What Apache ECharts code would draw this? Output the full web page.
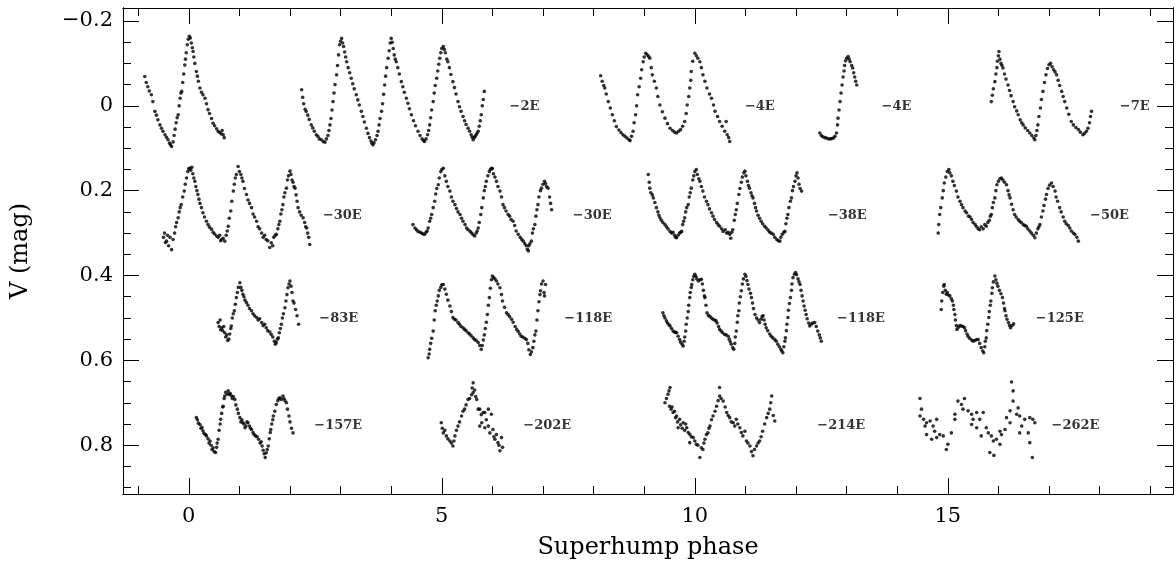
<!DOCTYPE html>
<html><head><meta charset="utf-8">
<script src="https://cdn.jsdelivr.net/npm/echarts@6/dist/echarts.min.js"></script>
<style>html,body{margin:0;padding:0;background:#fff}#c{width:1176px;height:565px}</style>
</head><body><div id="c"></div>
<script>
// ---- data: superhump light curves, [phase, V mag] ----
const lc0E = [[-0.87,-0.069],[-0.84,-0.055],[-0.81,-0.045],[-0.78,-0.035],[-0.74,-0.026],[-0.71,-0.01],[-0.67,0.013],[-0.64,0.022],[-0.61,0.033],[-0.57,0.045],[-0.54,0.053],[-0.51,0.06],[-0.47,0.068],[-0.44,0.074],[-0.41,0.08],[-0.38,0.088],[-0.36,0.092],[-0.34,0.096],[-0.31,0.085],[-0.29,0.07],[-0.27,0.055],[-0.25,0.04],[-0.23,0.028],[-0.21,0.021],[-0.19,0.0],[-0.17,-0.018],[-0.155,-0.03],[-0.14,-0.034],[-0.12,-0.055],[-0.1,-0.075],[-0.08,-0.096],[-0.065,-0.11],[-0.05,-0.125],[-0.03,-0.144],[-0.01,-0.157],[0.01,-0.164],[0.03,-0.16],[0.05,-0.148],[0.07,-0.137],[0.085,-0.128],[0.1,-0.115],[0.12,-0.1],[0.15,-0.081],[0.17,-0.07],[0.19,-0.058],[0.22,-0.042],[0.25,-0.032],[0.28,-0.026],[0.32,-0.018],[0.35,-0.005],[0.38,0.009],[0.41,0.018],[0.45,0.03],[0.48,0.041],[0.51,0.047],[0.55,0.054],[0.58,0.06],[0.61,0.063],[0.64,0.066],[0.66,0.058],[0.68,0.068],[0.7,0.075]];
const lc2E = [[2.23,-0.038],[2.25,-0.02],[2.27,-0.005],[2.3,0.008],[2.32,0.013],[2.35,0.022],[2.38,0.032],[2.42,0.045],[2.45,0.052],[2.48,0.06],[2.52,0.068],[2.55,0.072],[2.58,0.078],[2.62,0.08],[2.66,0.084],[2.69,0.086],[2.72,0.078],[2.75,0.07],[2.77,0.058],[2.79,0.045],[2.81,0.03],[2.83,0.01],[2.85,-0.01],[2.87,-0.03],[2.89,-0.05],[2.92,-0.073],[2.94,-0.095],[2.96,-0.12],[2.98,-0.144],[3.0,-0.152],[3.02,-0.159],[3.04,-0.148],[3.06,-0.14],[3.08,-0.127],[3.1,-0.115],[3.12,-0.104],[3.15,-0.09],[3.18,-0.078],[3.21,-0.065],[3.24,-0.052],[3.27,-0.04],[3.31,-0.026],[3.34,-0.014],[3.37,-0.002],[3.41,0.013],[3.44,0.025],[3.47,0.038],[3.51,0.053],[3.54,0.065],[3.57,0.075],[3.6,0.083],[3.62,0.088],[3.64,0.092],[3.66,0.087],[3.69,0.08],[3.72,0.07],[3.74,0.06],[3.76,0.045],[3.78,0.03],[3.81,0.013],[3.83,-0.005],[3.85,-0.027],[3.87,-0.049],[3.89,-0.07],[3.91,-0.09],[3.94,-0.112],[3.96,-0.13],[3.98,-0.148],[4.0,-0.159],[4.02,-0.15],[4.04,-0.135],[4.06,-0.12],[4.08,-0.11],[4.1,-0.104],[4.13,-0.09],[4.16,-0.075],[4.2,-0.057],[4.23,-0.045],[4.26,-0.032],[4.3,-0.018],[4.33,-0.006],[4.36,0.007],[4.4,0.021],[4.44,0.035],[4.48,0.047],[4.53,0.06],[4.57,0.07],[4.61,0.078],[4.64,0.082],[4.66,0.084],[4.69,0.078],[4.72,0.068],[4.74,0.058],[4.76,0.045],[4.78,0.028],[4.8,0.01],[4.83,-0.01],[4.85,-0.03],[4.87,-0.048],[4.9,-0.065],[4.92,-0.082],[4.94,-0.098],[4.96,-0.112],[4.98,-0.125],[5.0,-0.135],[5.03,-0.14],[5.05,-0.133],[5.07,-0.125],[5.1,-0.11],[5.12,-0.104],[5.15,-0.09],[5.18,-0.074],[5.22,-0.057],[5.25,-0.043],[5.28,-0.028],[5.32,-0.01],[5.35,0.002],[5.38,0.013],[5.42,0.025],[5.45,0.035],[5.48,0.044],[5.52,0.053],[5.55,0.06],[5.58,0.068],[5.6,0.074],[5.62,0.08],[5.64,0.075],[5.66,0.072],[5.68,0.068],[5.7,0.064],[5.72,0.06],[5.74,0.048],[5.76,0.035],[5.78,0.021],[5.8,0.0],[5.82,-0.015],[5.84,-0.034]];
const lc4Ea = [[8.14,-0.071],[8.17,-0.058],[8.2,-0.048],[8.22,-0.042],[8.25,-0.028],[8.29,-0.01],[8.33,0.005],[8.37,0.021],[8.41,0.035],[8.45,0.049],[8.5,0.057],[8.54,0.063],[8.58,0.068],[8.62,0.072],[8.66,0.076],[8.7,0.08],[8.72,0.082],[8.75,0.072],[8.78,0.06],[8.8,0.04],[8.83,0.021],[8.85,0.0],[8.87,-0.026],[8.9,-0.045],[8.93,-0.065],[8.95,-0.085],[8.98,-0.104],[9.0,-0.115],[9.03,-0.124],[9.06,-0.12],[9.09,-0.116],[9.11,-0.112],[9.14,-0.09],[9.16,-0.073],[9.2,-0.058],[9.24,-0.042],[9.27,-0.022],[9.31,-0.002],[9.36,0.014],[9.41,0.029],[9.46,0.042],[9.51,0.053],[9.56,0.058],[9.6,0.062],[9.64,0.064],[9.68,0.06],[9.72,0.056],[9.76,0.048],[9.8,0.037],[9.83,0.018],[9.85,-0.002],[9.88,-0.022],[9.9,-0.042],[9.92,-0.06],[9.93,-0.081],[9.96,-0.105],[10.0,-0.124],[10.03,-0.118],[10.06,-0.112],[10.1,-0.104],[10.13,-0.09],[10.16,-0.073],[10.2,-0.058],[10.24,-0.042],[10.29,-0.028],[10.33,-0.018],[10.37,-0.002],[10.4,0.013],[10.45,0.025],[10.49,0.037],[10.54,0.048],[10.59,0.06],[10.62,0.037],[10.64,0.068],[10.67,0.075],[10.69,0.084]];
const lc4Eb = [[12.47,0.064],[12.5,0.07],[12.53,0.073],[12.57,0.075],[12.6,0.076],[12.64,0.078],[12.68,0.078],[12.71,0.077],[12.74,0.076],[12.77,0.072],[12.8,0.064],[12.82,0.045],[12.83,0.029],[12.85,0.01],[12.87,-0.01],[12.89,-0.03],[12.91,-0.049],[12.93,-0.068],[12.95,-0.082],[12.96,-0.095],[12.98,-0.106],[13.0,-0.112],[13.03,-0.116],[13.05,-0.11],[13.07,-0.104],[13.1,-0.095],[13.12,-0.089],[13.14,-0.078],[13.16,-0.068],[13.18,-0.058],[13.2,-0.049]];
const lc7E = [[15.86,-0.01],[15.88,-0.025],[15.9,-0.04],[15.93,-0.057],[15.95,-0.075],[15.97,-0.09],[15.98,-0.105],[16.0,-0.118],[16.01,-0.128],[16.03,-0.11],[16.05,-0.1],[16.07,-0.095],[16.09,-0.089],[16.12,-0.075],[16.15,-0.063],[16.19,-0.049],[16.22,-0.036],[16.25,-0.024],[16.29,-0.01],[16.32,0.002],[16.36,0.012],[16.39,0.021],[16.43,0.033],[16.46,0.04],[16.49,0.045],[16.53,0.052],[16.58,0.058],[16.62,0.064],[16.66,0.07],[16.7,0.076],[16.72,0.08],[16.74,0.07],[16.76,0.058],[16.78,0.045],[16.8,0.025],[16.83,0.005],[16.85,-0.015],[16.88,-0.034],[16.91,-0.055],[16.94,-0.073],[16.97,-0.088],[17.0,-0.097],[17.03,-0.1],[17.06,-0.092],[17.09,-0.085],[17.12,-0.08],[17.15,-0.073],[17.18,-0.06],[17.21,-0.048],[17.25,-0.034],[17.28,-0.022],[17.31,-0.01],[17.35,0.005],[17.39,0.02],[17.44,0.037],[17.48,0.045],[17.53,0.051],[17.58,0.056],[17.62,0.062],[17.67,0.068],[17.7,0.065],[17.74,0.06],[17.77,0.053],[17.8,0.04],[17.82,0.025],[17.84,0.013]];
const lc30Ea = [[-0.5,0.31],[-0.48,0.3],[-0.46,0.322],[-0.44,0.319],[-0.42,0.305],[-0.4,0.33],[-0.37,0.31],[-0.34,0.339],[-0.31,0.315],[-0.28,0.3],[-0.26,0.285],[-0.24,0.275],[-0.21,0.264],[-0.19,0.25],[-0.17,0.24],[-0.15,0.233],[-0.12,0.215],[-0.09,0.201],[-0.07,0.185],[-0.045,0.17],[-0.02,0.155],[0.0,0.148],[0.02,0.147],[0.04,0.152],[0.06,0.145],[0.08,0.16],[0.1,0.17],[0.12,0.178],[0.14,0.19],[0.16,0.2],[0.18,0.209],[0.2,0.22],[0.22,0.23],[0.25,0.24],[0.28,0.252],[0.31,0.262],[0.35,0.272],[0.38,0.28],[0.41,0.286],[0.45,0.291],[0.48,0.298],[0.51,0.302],[0.55,0.307],[0.58,0.31],[0.61,0.305],[0.63,0.318],[0.65,0.315],[0.68,0.312],[0.71,0.319],[0.74,0.305],[0.76,0.295],[0.78,0.284],[0.8,0.265],[0.83,0.248],[0.85,0.225],[0.88,0.201],[0.9,0.185],[0.92,0.17],[0.94,0.162],[0.975,0.143],[1.0,0.155],[1.03,0.162],[1.05,0.17],[1.07,0.178],[1.1,0.195],[1.14,0.209],[1.17,0.222],[1.2,0.23],[1.24,0.24],[1.27,0.255],[1.3,0.262],[1.34,0.272],[1.37,0.285],[1.4,0.29],[1.44,0.3],[1.47,0.31],[1.5,0.305],[1.53,0.315],[1.56,0.318],[1.6,0.334],[1.63,0.323],[1.66,0.33],[1.68,0.31],[1.71,0.305],[1.73,0.303],[1.76,0.29],[1.78,0.28],[1.8,0.272],[1.82,0.255],[1.84,0.245],[1.86,0.233],[1.88,0.215],[1.9,0.205],[1.93,0.194],[1.95,0.175],[1.97,0.165],[2.0,0.154],[2.02,0.162],[2.04,0.175],[2.06,0.18],[2.08,0.19],[2.1,0.194],[2.12,0.21],[2.14,0.225],[2.16,0.24],[2.19,0.25],[2.22,0.258],[2.26,0.264],[2.29,0.275],[2.31,0.285],[2.33,0.288],[2.35,0.3],[2.37,0.31],[2.39,0.327]];
const lc30Eb = [[4.43,0.28],[4.47,0.288],[4.5,0.292],[4.53,0.296],[4.57,0.298],[4.6,0.3],[4.63,0.302],[4.66,0.303],[4.69,0.298],[4.71,0.295],[4.73,0.288],[4.76,0.272],[4.78,0.265],[4.8,0.256],[4.83,0.24],[4.86,0.225],[4.88,0.208],[4.9,0.195],[4.93,0.186],[4.95,0.17],[4.98,0.155],[5.0,0.15],[5.03,0.147],[5.06,0.165],[5.09,0.178],[5.12,0.19],[5.16,0.201],[5.19,0.215],[5.22,0.225],[5.26,0.233],[5.29,0.242],[5.32,0.25],[5.36,0.256],[5.39,0.265],[5.42,0.272],[5.46,0.28],[5.49,0.288],[5.52,0.292],[5.56,0.296],[5.59,0.3],[5.62,0.304],[5.65,0.307],[5.68,0.3],[5.7,0.295],[5.72,0.288],[5.74,0.275],[5.77,0.256],[5.79,0.24],[5.82,0.217],[5.84,0.2],[5.86,0.19],[5.88,0.178],[5.91,0.165],[5.94,0.155],[5.96,0.15],[5.98,0.147],[6.0,0.148],[6.02,0.16],[6.05,0.168],[6.08,0.178],[6.11,0.19],[6.15,0.201],[6.18,0.215],[6.21,0.233],[6.24,0.24],[6.27,0.248],[6.31,0.256],[6.34,0.26],[6.37,0.268],[6.41,0.272],[6.44,0.282],[6.47,0.295],[6.51,0.303],[6.55,0.31],[6.58,0.315],[6.61,0.319],[6.64,0.325],[6.67,0.33],[6.69,0.338],[6.71,0.342],[6.72,0.33],[6.74,0.325],[6.77,0.319],[6.79,0.3],[6.81,0.29],[6.84,0.28],[6.86,0.26],[6.88,0.245],[6.9,0.233],[6.92,0.215],[6.95,0.2],[6.97,0.194],[7.0,0.185],[7.03,0.178],[7.05,0.183],[7.07,0.19],[7.1,0.194],[7.13,0.215],[7.15,0.23],[7.17,0.245]];
const lc38E = [[9.08,0.162],[9.1,0.18],[9.11,0.194],[9.13,0.205],[9.16,0.21],[9.18,0.217],[9.21,0.228],[9.24,0.24],[9.27,0.25],[9.29,0.258],[9.31,0.264],[9.34,0.27],[9.37,0.275],[9.41,0.28],[9.44,0.285],[9.47,0.29],[9.51,0.296],[9.54,0.3],[9.57,0.298],[9.6,0.305],[9.62,0.31],[9.64,0.311],[9.67,0.305],[9.7,0.3],[9.72,0.298],[9.74,0.296],[9.76,0.28],[9.78,0.272],[9.8,0.264],[9.82,0.25],[9.84,0.24],[9.87,0.233],[9.89,0.215],[9.91,0.205],[9.93,0.194],[9.96,0.175],[9.98,0.165],[10.0,0.155],[10.03,0.15],[10.05,0.162],[10.08,0.172],[10.1,0.178],[10.13,0.19],[10.16,0.201],[10.19,0.215],[10.23,0.225],[10.26,0.233],[10.29,0.243],[10.33,0.252],[10.36,0.26],[10.39,0.268],[10.43,0.275],[10.46,0.28],[10.49,0.284],[10.53,0.29],[10.56,0.296],[10.6,0.292],[10.63,0.3],[10.66,0.298],[10.69,0.303],[10.71,0.312],[10.73,0.298],[10.75,0.292],[10.78,0.27],[10.8,0.256],[10.82,0.245],[10.84,0.23],[10.87,0.209],[10.89,0.195],[10.92,0.18],[10.94,0.168],[10.97,0.158],[10.99,0.154],[11.01,0.165],[11.04,0.178],[11.06,0.188],[11.08,0.194],[11.11,0.205],[11.13,0.212],[11.15,0.217],[11.18,0.23],[11.2,0.24],[11.22,0.248],[11.25,0.258],[11.28,0.265],[11.31,0.272],[11.34,0.278],[11.38,0.284],[11.41,0.288],[11.45,0.293],[11.48,0.298],[11.51,0.3],[11.55,0.303],[11.58,0.31],[11.62,0.315],[11.65,0.318],[11.68,0.319],[11.7,0.31],[11.73,0.303],[11.76,0.298],[11.78,0.296],[11.8,0.278],[11.82,0.265],[11.84,0.256],[11.86,0.24],[11.89,0.225],[11.91,0.217],[11.93,0.2],[11.95,0.19],[11.98,0.178],[12.0,0.165],[12.02,0.158],[12.04,0.17],[12.06,0.185],[12.08,0.195],[12.11,0.201]];
const lc50E = [[14.81,0.3],[14.82,0.28],[14.84,0.256],[14.86,0.24],[14.89,0.217],[14.91,0.2],[14.93,0.182],[14.96,0.168],[14.99,0.155],[15.02,0.15],[15.04,0.158],[15.07,0.165],[15.1,0.178],[15.13,0.188],[15.17,0.201],[15.2,0.215],[15.24,0.225],[15.27,0.233],[15.3,0.24],[15.34,0.248],[15.37,0.252],[15.41,0.26],[15.44,0.262],[15.47,0.268],[15.5,0.275],[15.54,0.28],[15.57,0.285],[15.6,0.29],[15.63,0.292],[15.66,0.285],[15.7,0.29],[15.73,0.28],[15.76,0.284],[15.79,0.275],[15.82,0.27],[15.84,0.26],[15.86,0.256],[15.88,0.24],[15.9,0.228],[15.93,0.217],[15.95,0.2],[15.97,0.186],[16.0,0.178],[16.03,0.172],[16.06,0.17],[16.09,0.175],[16.12,0.18],[16.16,0.186],[16.19,0.2],[16.21,0.21],[16.23,0.217],[16.26,0.232],[16.29,0.245],[16.32,0.256],[16.35,0.262],[16.39,0.268],[16.42,0.272],[16.45,0.275],[16.49,0.28],[16.52,0.282],[16.55,0.284],[16.58,0.29],[16.62,0.295],[16.65,0.3],[16.69,0.305],[16.72,0.311],[16.75,0.3],[16.78,0.29],[16.8,0.285],[16.82,0.28],[16.85,0.262],[16.88,0.248],[16.9,0.235],[16.93,0.22],[16.95,0.209],[16.98,0.195],[17.01,0.187],[17.05,0.182],[17.08,0.19],[17.12,0.201],[17.14,0.215],[17.17,0.225],[17.21,0.24],[17.24,0.25],[17.28,0.262],[17.31,0.272],[17.34,0.278],[17.38,0.282],[17.41,0.288],[17.44,0.295],[17.48,0.3],[17.51,0.303],[17.55,0.31],[17.58,0.319]];
const lc83E = [[0.58,0.511],[0.6,0.52],[0.62,0.505],[0.63,0.528],[0.65,0.523],[0.67,0.53],[0.69,0.52],[0.71,0.535],[0.73,0.545],[0.75,0.54],[0.77,0.553],[0.79,0.55],[0.81,0.538],[0.83,0.525],[0.84,0.519],[0.86,0.5],[0.88,0.49],[0.9,0.483],[0.92,0.468],[0.94,0.452],[0.96,0.44],[0.98,0.428],[1.01,0.417],[1.03,0.428],[1.05,0.435],[1.07,0.444],[1.09,0.45],[1.11,0.458],[1.14,0.464],[1.17,0.47],[1.2,0.478],[1.24,0.483],[1.27,0.49],[1.3,0.495],[1.34,0.499],[1.37,0.505],[1.4,0.502],[1.44,0.511],[1.47,0.518],[1.5,0.515],[1.53,0.523],[1.56,0.53],[1.6,0.533],[1.63,0.539],[1.66,0.545],[1.69,0.555],[1.71,0.562],[1.73,0.558],[1.75,0.55],[1.77,0.547],[1.79,0.535],[1.81,0.525],[1.83,0.515],[1.85,0.5],[1.87,0.49],[1.9,0.476],[1.92,0.46],[1.94,0.445],[1.96,0.429],[1.98,0.42],[2.0,0.413],[2.02,0.425],[2.04,0.44],[2.06,0.46],[2.08,0.465],[2.11,0.48],[2.14,0.495],[2.17,0.515]];
const lc118Ea = [[4.73,0.594],[4.75,0.585],[4.76,0.574],[4.78,0.56],[4.8,0.548],[4.83,0.531],[4.85,0.505],[4.87,0.483],[4.89,0.47],[4.91,0.46],[4.93,0.448],[4.95,0.435],[4.98,0.428],[5.0,0.422],[5.03,0.421],[5.06,0.432],[5.09,0.444],[5.12,0.458],[5.16,0.472],[5.19,0.485],[5.22,0.499],[5.25,0.503],[5.28,0.505],[5.32,0.511],[5.35,0.515],[5.38,0.52],[5.42,0.523],[5.45,0.527],[5.48,0.53],[5.52,0.535],[5.55,0.538],[5.58,0.542],[5.62,0.547],[5.65,0.551],[5.68,0.553],[5.72,0.558],[5.75,0.565],[5.78,0.574],[5.8,0.565],[5.82,0.552],[5.84,0.54],[5.86,0.525],[5.88,0.51],[5.9,0.492],[5.92,0.47],[5.94,0.452],[5.96,0.43],[5.98,0.41],[6.0,0.401],[6.02,0.405],[6.05,0.408],[6.08,0.413],[6.11,0.42],[6.15,0.429],[6.18,0.445],[6.2,0.46],[6.24,0.475],[6.28,0.488],[6.31,0.492],[6.34,0.497],[6.38,0.503],[6.41,0.51],[6.45,0.52],[6.48,0.527],[6.51,0.532],[6.54,0.538],[6.57,0.543],[6.6,0.545],[6.64,0.548],[6.67,0.551],[6.7,0.56],[6.72,0.575],[6.75,0.586],[6.77,0.58],[6.8,0.57],[6.82,0.555],[6.84,0.54],[6.86,0.531],[6.88,0.505],[6.9,0.483],[6.92,0.462],[6.94,0.445],[6.95,0.436],[6.97,0.42],[7.0,0.413],[7.02,0.44],[7.03,0.448],[7.05,0.421]];
const lc118Eb = [[9.37,0.488],[9.39,0.495],[9.41,0.5],[9.44,0.507],[9.46,0.512],[9.49,0.516],[9.51,0.519],[9.54,0.525],[9.57,0.531],[9.6,0.533],[9.62,0.534],[9.64,0.535],[9.67,0.543],[9.7,0.551],[9.72,0.557],[9.75,0.562],[9.77,0.566],[9.79,0.555],[9.8,0.545],[9.82,0.531],[9.83,0.515],[9.85,0.5],[9.87,0.485],[9.88,0.47],[9.9,0.452],[9.91,0.44],[9.93,0.428],[9.94,0.421],[9.96,0.41],[9.98,0.402],[10.0,0.397],[10.02,0.402],[10.04,0.408],[10.07,0.413],[10.1,0.41],[10.13,0.409],[10.15,0.42],[10.17,0.435],[10.19,0.448],[10.2,0.452],[10.22,0.47],[10.24,0.488],[10.27,0.494],[10.3,0.497],[10.33,0.5],[10.36,0.503],[10.39,0.505],[10.42,0.507],[10.44,0.512],[10.47,0.52],[10.49,0.527],[10.52,0.531],[10.55,0.535],[10.59,0.539],[10.62,0.54],[10.66,0.543],[10.68,0.55],[10.7,0.556],[10.72,0.562],[10.75,0.57],[10.77,0.574],[10.79,0.56],[10.8,0.545],[10.82,0.531],[10.84,0.51],[10.85,0.495],[10.87,0.483],[10.88,0.465],[10.9,0.45],[10.92,0.436],[10.94,0.42],[10.96,0.408],[10.99,0.397],[11.01,0.402],[11.03,0.412],[11.05,0.421],[11.07,0.432],[11.1,0.442],[11.12,0.452],[11.14,0.465],[11.16,0.478],[11.19,0.492],[11.22,0.5],[11.25,0.505],[11.28,0.511],[11.31,0.503],[11.33,0.497],[11.35,0.495],[11.37,0.505],[11.39,0.515],[11.41,0.523],[11.44,0.53],[11.48,0.538],[11.51,0.543],[11.54,0.547],[11.58,0.551],[11.61,0.555],[11.64,0.562],[11.67,0.568],[11.7,0.574],[11.72,0.578],[11.74,0.582],[11.76,0.568],[11.78,0.555],[11.79,0.547],[11.81,0.53],[11.82,0.515],[11.84,0.499],[11.85,0.482],[11.87,0.466],[11.89,0.452],[11.91,0.435],[11.92,0.42],[11.94,0.405],[11.97,0.397],[11.99,0.393],[12.01,0.398],[12.04,0.408],[12.06,0.415],[12.08,0.421],[12.1,0.435],[12.12,0.448],[12.14,0.46],[12.16,0.472],[12.18,0.482],[12.2,0.492],[12.22,0.502],[12.25,0.512],[12.27,0.519],[12.3,0.515],[12.33,0.512],[12.37,0.511],[12.4,0.52],[12.43,0.531],[12.46,0.54],[12.48,0.547],[12.5,0.555]];
const lc125E = [[14.87,0.48],[14.88,0.46],[14.9,0.44],[14.92,0.425],[14.93,0.421],[14.95,0.435],[14.97,0.444],[14.99,0.44],[15.01,0.446],[15.04,0.448],[15.07,0.455],[15.09,0.46],[15.11,0.47],[15.12,0.48],[15.14,0.492],[15.15,0.505],[15.17,0.518],[15.18,0.527],[15.21,0.522],[15.24,0.518],[15.27,0.519],[15.3,0.52],[15.33,0.523],[15.35,0.53],[15.38,0.538],[15.4,0.543],[15.43,0.548],[15.47,0.552],[15.5,0.555],[15.53,0.553],[15.57,0.551],[15.6,0.551],[15.63,0.56],[15.66,0.57],[15.69,0.578],[15.71,0.582],[15.73,0.568],[15.74,0.555],[15.76,0.547],[15.77,0.53],[15.79,0.515],[15.81,0.499],[15.82,0.485],[15.84,0.47],[15.85,0.46],[15.87,0.442],[15.88,0.429],[15.9,0.415],[15.93,0.401],[15.95,0.41],[15.97,0.418],[15.99,0.425],[16.02,0.435],[16.05,0.443],[16.08,0.452],[16.1,0.465],[16.12,0.478],[16.13,0.483],[16.15,0.495],[16.17,0.503],[16.2,0.511],[16.22,0.518],[16.24,0.523],[16.27,0.518],[16.3,0.514]];
const lc157E = [[0.15,0.735],[0.17,0.74],[0.19,0.748],[0.22,0.751],[0.24,0.76],[0.26,0.758],[0.28,0.766],[0.3,0.772],[0.33,0.775],[0.35,0.778],[0.38,0.785],[0.4,0.795],[0.42,0.79],[0.44,0.8],[0.46,0.81],[0.48,0.806],[0.5,0.815],[0.53,0.817],[0.55,0.805],[0.56,0.795],[0.58,0.786],[0.6,0.765],[0.62,0.75],[0.63,0.739],[0.65,0.725],[0.67,0.71],[0.68,0.708],[0.7,0.69],[0.71,0.684],[0.73,0.675],[0.76,0.68],[0.78,0.672],[0.8,0.68],[0.82,0.678],[0.84,0.684],[0.86,0.69],[0.88,0.685],[0.91,0.692],[0.93,0.705],[0.96,0.715],[0.98,0.725],[1.01,0.735],[1.03,0.745],[1.05,0.74],[1.07,0.747],[1.09,0.75],[1.11,0.759],[1.13,0.755],[1.15,0.745],[1.17,0.747],[1.2,0.755],[1.22,0.76],[1.24,0.763],[1.27,0.77],[1.29,0.775],[1.32,0.778],[1.35,0.78],[1.38,0.786],[1.41,0.795],[1.43,0.792],[1.45,0.802],[1.47,0.812],[1.49,0.82],[1.51,0.829],[1.53,0.818],[1.55,0.81],[1.57,0.802],[1.59,0.785],[1.61,0.77],[1.62,0.763],[1.64,0.75],[1.66,0.74],[1.67,0.731],[1.7,0.72],[1.73,0.704],[1.76,0.695],[1.78,0.69],[1.8,0.688],[1.83,0.692],[1.86,0.684],[1.88,0.69],[1.9,0.695],[1.93,0.7],[1.95,0.715],[1.98,0.731],[2.0,0.745],[2.03,0.76],[2.06,0.771]];
const lc202E = [[4.99,0.747],[5.01,0.76],[5.03,0.771],[5.06,0.765],[5.09,0.778],[5.12,0.785],[5.16,0.79],[5.19,0.795],[5.22,0.802],[5.24,0.79],[5.26,0.778],[5.29,0.765],[5.32,0.755],[5.35,0.745],[5.39,0.731],[5.42,0.72],[5.45,0.715],[5.48,0.705],[5.52,0.692],[5.55,0.69],[5.59,0.681],[5.6,0.665],[5.62,0.653],[5.62,0.676],[5.65,0.67],[5.67,0.685],[5.69,0.692],[5.72,0.715],[5.75,0.715],[5.75,0.755],[5.78,0.728],[5.79,0.747],[5.82,0.723],[5.85,0.723],[5.85,0.759],[5.88,0.74],[5.92,0.755],[5.92,0.715],[5.95,0.771],[5.98,0.727],[6.01,0.763],[6.03,0.78],[6.05,0.786],[6.08,0.775],[6.11,0.794],[6.13,0.8],[6.15,0.813],[6.18,0.782],[6.2,0.805]];
const lc214E = [[9.41,0.7],[9.44,0.69],[9.47,0.68],[9.49,0.672],[9.51,0.664],[9.5,0.708],[9.53,0.715],[9.55,0.71],[9.57,0.723],[9.6,0.72],[9.62,0.735],[9.64,0.731],[9.66,0.745],[9.67,0.759],[9.7,0.739],[9.72,0.752],[9.75,0.76],[9.77,0.747],[9.8,0.765],[9.82,0.75],[9.84,0.759],[9.87,0.77],[9.9,0.774],[9.9,0.794],[9.93,0.78],[9.97,0.782],[10.0,0.79],[10.03,0.798],[10.06,0.8],[10.1,0.829],[10.13,0.806],[10.16,0.81],[10.18,0.795],[10.2,0.786],[10.23,0.775],[10.26,0.771],[10.28,0.76],[10.3,0.755],[10.33,0.74],[10.36,0.731],[10.4,0.72],[10.43,0.708],[10.46,0.695],[10.49,0.684],[10.49,0.664],[10.52,0.69],[10.56,0.696],[10.6,0.71],[10.63,0.723],[10.66,0.73],[10.69,0.735],[10.72,0.745],[10.76,0.747],[10.79,0.755],[10.82,0.739],[10.85,0.75],[10.89,0.759],[10.92,0.77],[10.95,0.778],[10.99,0.767],[11.02,0.79],[11.05,0.795],[11.09,0.802],[11.12,0.815],[11.15,0.825],[11.18,0.81],[11.22,0.802],[11.25,0.795],[11.28,0.79],[11.31,0.78],[11.34,0.767],[11.38,0.75],[11.42,0.735],[11.45,0.725],[11.48,0.715],[11.5,0.7],[11.52,0.684],[11.55,0.73],[11.58,0.743]];
const lc262E = [[14.45,0.69],[14.48,0.715],[14.45,0.731],[14.52,0.739],[14.58,0.747],[14.65,0.743],[14.55,0.755],[14.71,0.755],[14.78,0.739],[14.74,0.767],[14.58,0.775],[14.68,0.786],[14.78,0.782],[14.84,0.775],[14.91,0.778],[14.97,0.81],[15.0,0.798],[15.07,0.771],[15.14,0.727],[15.14,0.739],[15.2,0.696],[15.27,0.704],[15.33,0.69],[15.3,0.715],[15.4,0.719],[15.47,0.727],[15.5,0.739],[15.57,0.723],[15.63,0.739],[15.47,0.751],[15.57,0.759],[15.66,0.778],[15.7,0.723],[15.76,0.759],[15.8,0.771],[15.86,0.778],[15.9,0.79],[15.83,0.817],[15.91,0.824],[15.96,0.786],[16.03,0.767],[16.06,0.775],[16.03,0.798],[16.13,0.763],[16.16,0.735],[16.23,0.747],[16.23,0.719],[16.29,0.696],[16.29,0.672],[16.26,0.651],[16.36,0.727],[16.39,0.712],[16.42,0.731],[16.46,0.755],[16.42,0.771],[16.52,0.739],[16.59,0.771],[16.62,0.735],[16.68,0.739],[16.72,0.747],[16.62,0.794],[16.67,0.829]];

// epoch labels
const labelText = ['\u22122E','\u22124E','\u22124E','\u22127E','\u221230E','\u221230E','\u221238E','\u221250E','\u221283E','\u2212118E','\u2212118E','\u2212125E','\u2212157E','\u2212202E','\u2212214E','\u2212262E'];
const labelX = [6.34,10.99,13.69,18.4,2.65,7.59,12.63,17.81,2.58,7.42,12.81,16.74,2.48,6.61,12.42,17.05];
const labelY = [0.002,0.002,0.002,0.002,0.259,0.259,0.259,0.259,0.502,0.502,0.502,0.502,0.755,0.755,0.755,0.755];

// axis ticks
const xMajor = [0,5,10,15];
const xMinor = [-1,1,2,3,4,6,7,8,9,11,12,13,14,16,17,18,19];
const yMajor = [-0.2,0,0.2,0.4,0.6,0.8];
const yMinor = [-0.15,-0.1,-0.05,0.05,0.1,0.15,0.25,0.3,0.35,0.45,0.5,0.55,0.65,0.7,0.75,0.85,0.9];
const xMin = -1.3, xMax = 19.45, yMin = -0.2306, yMax = 0.915;

const curves = [lc0E,lc2E,lc4Ea,lc4Eb,lc7E,lc30Ea,lc30Eb,lc38E,lc50E,lc83E,lc118Ea,lc118Eb,lc125E,lc157E,lc202E,lc214E,lc262E];

const serif = 'DejaVu Serif';
const black = '#000';
function xAx(pos, ticks, len, showLabel, name) {
  return {
    type:'value', min:xMin, max:xMax, position:pos,
    axisLine:{show:true, onZero:false, lineStyle:{color:black, width:1}},
    axisTick:{show:true, inside:true, length:len, customValues:ticks, lineStyle:{color:black, width:1}},
    axisLabel:{show:showLabel, customValues:ticks, fontFamily:serif, fontSize:21, color:black, margin:12},
    splitLine:{show:false},
    name: name || '', nameLocation:'middle', nameGap:42,
    nameTextStyle:{fontFamily:serif, fontSize:24, color:black}
  };
}
function yAx(pos, ticks, len, showLabel, name) {
  return {
    type:'value', min:yMin, max:yMax, inverse:true, position:pos,
    axisLine:{show:true, onZero:false, lineStyle:{color:black, width:1}},
    axisTick:{show:true, inside:true, length:len, customValues:ticks, lineStyle:{color:black, width:1}},
    axisLabel:{show:showLabel, customValues:ticks, fontFamily:serif, fontSize:21, color:black, margin:10,
      formatter:v => (Math.abs(v) < 1e-9 ? '0' : (v < 0 ? '\u2212' : '') + Math.abs(v).toFixed(1))},
    splitLine:{show:false},
    name: name || '', nameLocation:'middle', nameGap:90, nameRotate:90,
    nameTextStyle:{fontFamily:serif, fontSize:24, color:black}
  };
}

const series = curves.map(d => ({
  type:'scatter', data:d, xAxisIndex:0, yAxisIndex:0,
  symbol:'circle', symbolSize:3.6, itemStyle:{color:black}, silent:true
}));
series.push({
  type:'scatter', xAxisIndex:0, yAxisIndex:0, symbolSize:0, silent:true,
  data: labelX.map((x,i) => [x, labelY[i], labelText[i]]),
  label:{show:true, position:'right', distance:0, formatter:p => p.data[2],
    fontFamily:serif, fontWeight:'bold', fontSize:13, color:black}
});

const chart = echarts.init(document.getElementById('c'), null, {renderer:'canvas'});
chart.setOption({
  animation:false,
  backgroundColor:'#fff',
  grid:{left:123, right:3, top:8, bottom:70, containLabel:false},
  xAxis:[
    xAx('bottom', xMajor, 16, true, 'Superhump phase'),
    xAx('bottom', xMinor, 8, false),
    xAx('top', xMajor, 16, false),
    xAx('top', xMinor, 8, false)
  ],
  yAxis:[
    yAx('left', yMajor, 16, true, 'V (mag)'),
    yAx('left', yMinor, 8, false),
    yAx('right', yMajor, 16, false),
    yAx('right', yMinor, 8, false)
  ],
  series: series
});
</script>
</body></html>
